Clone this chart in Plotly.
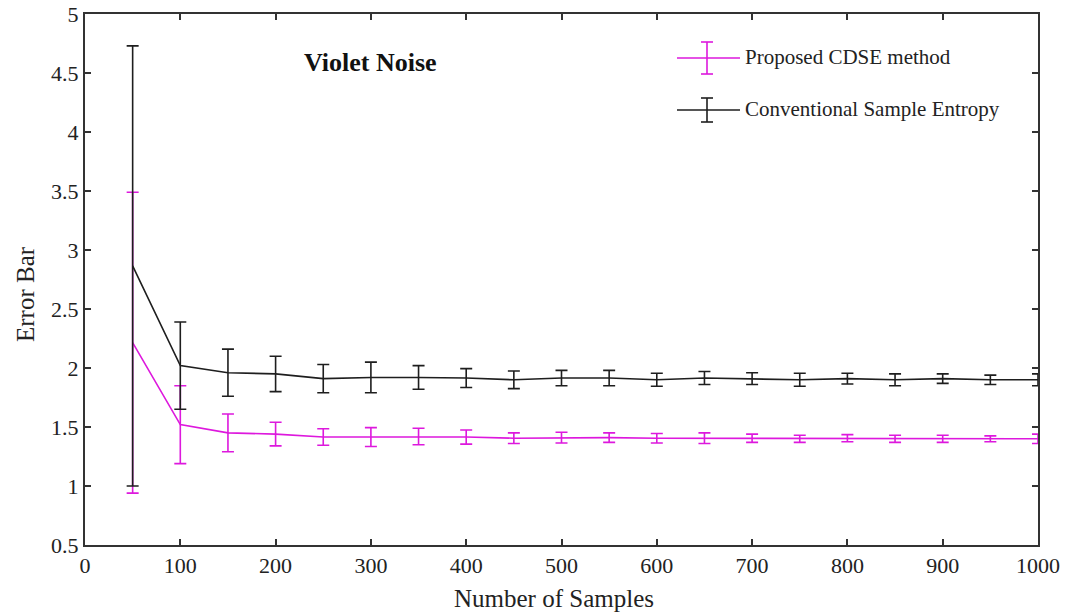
import plotly.graph_objects as go

# Sample sizes and mean entropy-error values with their standard deviations
samples = [50, 100, 150, 200, 250, 300, 350, 400, 450, 500,
           550, 600, 650, 700, 750, 800, 850, 900, 950, 1000]

cdse_mean = [2.215, 1.52, 1.45, 1.44, 1.415, 1.415, 1.42, 1.415, 1.405, 1.41,
             1.41, 1.405, 1.405, 1.405, 1.40, 1.405, 1.40, 1.40, 1.40, 1.40]
cdse_err = [1.275, 0.33, 0.16, 0.10, 0.07, 0.08, 0.07, 0.06, 0.045, 0.045,
            0.04, 0.04, 0.045, 0.035, 0.03, 0.03, 0.03, 0.03, 0.025, 0.04]

se_mean = [2.865, 2.02, 1.96, 1.95, 1.91, 1.92, 1.92, 1.915, 1.90, 1.915,
           1.915, 1.90, 1.915, 1.91, 1.90, 1.91, 1.90, 1.91, 1.90, 1.90]
se_err = [1.865, 0.37, 0.20, 0.15, 0.12, 0.13, 0.10, 0.08, 0.075, 0.065,
          0.065, 0.055, 0.055, 0.05, 0.055, 0.045, 0.05, 0.04, 0.04, 0.05]

x_ticks = [0, 100, 200, 300, 400, 500, 600, 700, 800, 900, 1000]
y_ticks = [0.5, 1, 1.5, 2, 2.5, 3, 3.5, 4, 4.5, 5]

series_names = ["Proposed CDSE method", "Conventional Sample Entropy"]
title_text = "Violet Noise"
x_title = "Number of Samples"
y_title = "Error Bar"

MAGENTA = "#dd18dd"
BLACK = "#1e1e1e"
FONT = "Liberation Serif, Times New Roman, serif"

fig = go.Figure()

# CDSE drawn first so the conventional curve sits on top where they overlap
fig.add_trace(go.Scatter(
    x=samples, y=cdse_mean, mode="lines", name=series_names[0],
    line=dict(color=MAGENTA, width=1.6),
    error_y=dict(type="data", array=cdse_err, visible=True,
                 color=MAGENTA, thickness=1.6, width=6),
    showlegend=False,
))
fig.add_trace(go.Scatter(
    x=samples, y=se_mean, mode="lines", name=series_names[1],
    line=dict(color=BLACK, width=1.6),
    error_y=dict(type="data", array=se_err, visible=True,
                 color=BLACK, thickness=1.6, width=6),
    showlegend=False,
))

# Plot-area geometry in px, used to place the hand-built legend and titles
L, T, PW, PH = 85.0, 14.0, 953.0, 531.0


def px_x(px):
    return (px - L) / PW


def px_y(py):
    return 1 - (py - T) / PH


legend_rows = [
    (series_names[0], MAGENTA, 58, 16),
    (series_names[1], BLACK, 110, 12),
]
shapes = []
annotations = []
for name, color, yl, half in legend_rows:
    ln = dict(color=color, width=1.6)
    shapes.append(dict(type="line", xref="paper", yref="paper",
                       x0=px_x(677), x1=px_x(740), y0=px_y(yl), y1=px_y(yl),
                       line=ln))
    shapes.append(dict(type="line", xref="paper", yref="paper",
                       x0=px_x(707), x1=px_x(707),
                       y0=px_y(yl - half), y1=px_y(yl + half), line=ln))
    for yy in (yl - half, yl + half):
        shapes.append(dict(type="line", xref="paper", yref="paper",
                           x0=px_x(701), x1=px_x(713),
                           y0=px_y(yy), y1=px_y(yy), line=ln))
    annotations.append(dict(
        text=name, xref="paper", yref="paper",
        x=px_x(743), y=px_y(yl - 1), xanchor="left", yanchor="middle",
        showarrow=False, font=dict(family=FONT, size=21, color="#222"),
    ))

annotations.append(dict(
    text="<b>%s</b>" % title_text, x=300, y=4.59, xref="x", yref="y",
    showarrow=False, xanchor="center", yanchor="middle",
    font=dict(family=FONT, size=26, color="#111"),
))
annotations.append(dict(
    text=x_title, xref="paper", yref="paper", x=px_x(554), y=px_y(598),
    xanchor="center", yanchor="middle", showarrow=False,
    font=dict(family=FONT, size=25, color="#222"),
))
annotations.append(dict(
    text=y_title, xref="paper", yref="paper", x=px_x(25), y=px_y(294),
    xanchor="center", yanchor="middle", showarrow=False, textangle=-90,
    font=dict(family=FONT, size=25, color="#222"),
))

axis_common = dict(
    showline=True, linecolor="#333", linewidth=2, mirror="ticks",
    ticks="inside", ticklen=6, tickwidth=1.5, tickcolor="#333",
    showgrid=False, zeroline=False, automargin=False,
    tickfont=dict(family=FONT, size=22, color="#222"),
)

fig.update_layout(
    width=1073, height=614,
    margin=dict(l=85, r=35, t=14, b=69),
    paper_bgcolor="white", plot_bgcolor="white",
    xaxis=dict(range=[0, 1000], tickvals=x_ticks,
               ticktext=[str(v) for v in x_ticks], **axis_common),
    yaxis=dict(range=[0.5, 5], tickvals=y_ticks,
               ticktext=[("%g" % v) for v in y_ticks], **axis_common),
    shapes=shapes,
    annotations=annotations,
)

fig.write_html("out.html")
